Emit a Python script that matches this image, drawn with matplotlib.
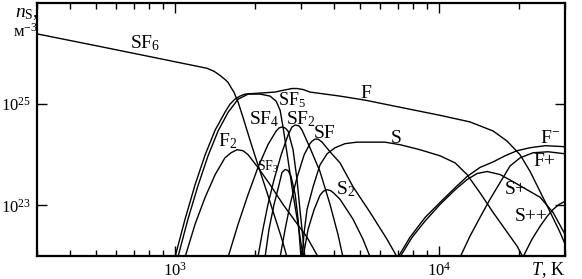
import numpy as np
import matplotlib
matplotlib.use("Agg")
import matplotlib.pyplot as plt
from matplotlib.ticker import LogLocator, NullFormatter, NullLocator

plt.rcParams['font.family'] = 'Liberation Serif'
plt.rcParams['mathtext.fontset'] = 'custom'
plt.rcParams['mathtext.rm'] = 'Liberation Serif'
plt.rcParams['mathtext.it'] = 'Liberation Serif:italic'

# log10(T, K) and log10(n, m^-3)
sf6_lgT = [2.477, 2.716, 2.905, 3.121, 3.148, 3.170, 3.189, 3.201, 3.212, 3.223, 3.231, 3.239, 3.258,
           3.284, 3.314, 3.345, 3.375, 3.405, 3.424]
sf6_lgn = [26.39, 26.14, 25.94, 25.71, 25.65, 25.57, 25.49, 25.43, 25.33, 25.24, 25.14, 25.04, 24.73,
           24.29, 23.80, 23.31, 22.82, 22.33, 21.98]

f_lgT = [3.000, 3.038, 3.076, 3.114, 3.152, 3.189, 3.208, 3.227, 3.246, 3.265, 3.322, 3.379, 3.405, 3.424,
         3.443, 3.462, 3.485, 3.511, 3.625, 3.720, 3.852, 4.004, 4.117, 4.205, 4.258, 4.307, 4.345, 4.383,
         4.420, 4.458, 4.477]
f_lgn = [21.98, 22.73, 23.41, 24.00, 24.49, 24.84, 25.00, 25.10, 25.16, 25.20, 25.22, 25.24, 25.27, 25.29,
         25.31, 25.31, 25.29, 25.24, 25.16, 25.08, 24.94, 24.78, 24.65, 24.47, 24.27, 24.00, 23.67, 23.27,
         22.88, 22.47, 22.24]

sf4_lgT = [3.011, 3.049, 3.087, 3.125, 3.163, 3.201, 3.239, 3.277, 3.322, 3.360, 3.383, 3.398, 3.409,
           3.428, 3.447, 3.466, 3.485]
sf4_lgn = [21.98, 22.73, 23.39, 23.98, 24.47, 24.84, 25.10, 25.20, 25.20, 25.16, 25.06, 24.88, 24.55,
           23.90, 23.22, 22.63, 21.98]

f2_lgT = [3.038, 3.076, 3.114, 3.152, 3.189, 3.212, 3.235, 3.258, 3.277, 3.314, 3.360, 3.409, 3.455,
          3.500, 3.542]
f2_lgn = [21.98, 22.63, 23.16, 23.61, 23.94, 24.04, 24.10, 24.08, 24.00, 23.75, 23.41, 23.02, 22.69,
          22.37, 21.98]

sf5_lgT = [3.201, 3.239, 3.277, 3.314, 3.352, 3.383, 3.394, 3.405, 3.417, 3.428, 3.447, 3.462, 3.473,
           3.485, 3.492]
sf5_lgn = [21.98, 22.63, 23.22, 23.75, 24.20, 24.47, 24.53, 24.55, 24.53, 24.47, 24.10, 23.51, 22.92,
           22.33, 21.98]

sf2_lgT = [3.314, 3.333, 3.352, 3.375, 3.402, 3.428, 3.443, 3.455, 3.470, 3.481, 3.511, 3.549, 3.587,
           3.617, 3.636]
sf2_lgn = [21.98, 22.53, 23.02, 23.51, 24.00, 24.39, 24.55, 24.59, 24.57, 24.49, 24.14, 23.67, 23.02,
           22.43, 21.98]

sf_lgT = [3.398, 3.417, 3.436, 3.462, 3.489, 3.511, 3.519, 3.530, 3.542, 3.557, 3.587, 3.625, 3.674,
          3.739, 3.803, 3.841]
sf_lgn = [21.98, 22.53, 23.02, 23.55, 24.00, 24.22, 24.27, 24.31, 24.31, 24.25, 24.06, 23.84, 23.37,
          22.86, 22.33, 21.98]

sf3_lgT = [3.341, 3.356, 3.375, 3.394, 3.405, 3.417, 3.428, 3.439, 3.455, 3.466, 3.477]
sf3_lgn = [21.98, 22.53, 23.02, 23.41, 23.65, 23.71, 23.69, 23.58, 23.22, 22.73, 21.98]

s2_lgT = [3.485, 3.504, 3.527, 3.549, 3.562, 3.576, 3.590, 3.602, 3.625, 3.674, 3.712, 3.739]
s2_lgn = [21.98, 22.53, 22.92, 23.20, 23.28, 23.31, 23.29, 23.24, 23.12, 22.73, 22.33, 21.98]

s_lgT = [3.481, 3.489, 3.500, 3.523, 3.549, 3.576, 3.606, 3.644, 3.689, 3.739, 3.795, 3.852, 3.928, 4.004,
         4.061, 4.106, 4.155, 4.205, 4.258, 4.295, 4.318]
s_lgn = [21.98, 22.47, 22.92, 23.37, 23.80, 24.02, 24.14, 24.22, 24.25, 24.25, 24.25, 24.20, 24.10, 23.98,
         23.84, 23.61, 23.25, 22.86, 22.47, 22.20, 21.98]

fneg_lgT = [3.845, 3.890, 3.947, 4.004, 4.061, 4.106, 4.155, 4.205, 4.250, 4.295, 4.345, 4.402, 4.477]
fneg_lgn = [21.98, 22.37, 22.76, 23.06, 23.35, 23.57, 23.75, 23.86, 23.98, 24.08, 24.14, 24.18, 24.16]

fpos_lgT = [4.080, 4.117, 4.155, 4.193, 4.231, 4.269, 4.307, 4.356, 4.413, 4.477]
fpos_lgn = [21.98, 22.39, 22.76, 23.12, 23.45, 23.78, 23.94, 24.04, 24.06, 24.02]

spos_lgT = [3.852, 3.898, 3.947, 4.004, 4.061, 4.106, 4.144, 4.182, 4.231, 4.280, 4.333, 4.383, 4.432, 4.477]
spos_lgn = [21.98, 22.37, 22.69, 23.02, 23.31, 23.51, 23.63, 23.67, 23.61, 23.47, 23.31, 23.16, 22.86, 22.43]

spp_lgT = [4.318, 4.352, 4.383, 4.409, 4.432, 4.455, 4.477]
spp_lgn = [21.98, 22.33, 22.59, 22.78, 22.92, 23.02, 23.08]

curves = [(sf6_lgT, sf6_lgn), (f_lgT, f_lgn), (sf4_lgT, sf4_lgn), (f2_lgT, f2_lgn),
          (sf5_lgT, sf5_lgn), (sf2_lgT, sf2_lgn), (sf_lgT, sf_lgn), (sf3_lgT, sf3_lgn),
          (s2_lgT, s2_lgn), (s_lgT, s_lgn), (fneg_lgT, fneg_lgn), (fpos_lgT, fpos_lgn),
          (spos_lgT, spos_lgn), (spp_lgT, spp_lgn)]

# label text, log10 T, log10 n, size
labels = [("SF$_6$", 2.830, 26.10, 14), ("F", 3.701, 25.12, 14), ("SF$_5$", 3.390, 24.98, 13),
          ("SF$_4$", 3.280, 24.61, 14), ("SF$_2$", 3.420, 24.61, 14), ("SF", 3.527, 24.33, 14),
          ("F$_2$", 3.163, 24.16, 14), ("SF$_3$", 3.311, 23.69, 10), ("S$_2$", 3.610, 23.22, 14),
          ("S", 3.818, 24.24, 14), ("F$^{-}$", 4.383, 24.24, 14), ("F+", 4.356, 23.77, 14),
          ("S+", 4.250, 23.22, 14), ("S++", 4.288, 22.69, 14)]

fig = plt.figure(figsize=(5.82, 2.79), dpi=100)
ax = fig.add_axes([37 / 582, 23 / 279, 528 / 582, 253 / 279])

for lgT, lgn in curves:
    ax.plot(10 ** np.array(lgT), 10 ** np.array(lgn), color='black', lw=1.0)

for txt, lt, ln, fs in labels:
    ax.text(10 ** lt, 10 ** ln, txt, fontsize=fs, ha='left', va='baseline')

ax.set_xscale('log')
ax.set_yscale('log')
ax.set_xlim(300, 30000)
ax.set_ylim(1e22, 1e27)
ax.set_yticks([1e23, 1e25])
ax.yaxis.set_minor_locator(NullLocator())
ax.xaxis.set_major_locator(LogLocator(base=10))
ax.xaxis.set_minor_locator(LogLocator(base=10, subs=np.arange(2, 10)))
ax.xaxis.set_minor_formatter(NullFormatter())
ax.tick_params(which='both', direction='in', top=True, right=True, labelsize=12, width=1)
ax.tick_params(which='major', length=7, pad=4)
ax.tick_params(which='minor', length=4)
for sp in ax.spines.values():
    sp.set_linewidth(1.6)

fig.text(15 / 582, 1 - 17 / 279, "$n_{\\mathrm{S}}$,", fontsize=14, ha='left', va='baseline')
fig.text(13 / 582, 1 - 37 / 279, "м$^{-3}$", fontsize=12, ha='left', va='baseline')
fig.text(565 / 582, 1 - 275 / 279, "$T$, K", fontsize=13, ha='right', va='baseline')

fig.savefig("out.png", dpi=100)
